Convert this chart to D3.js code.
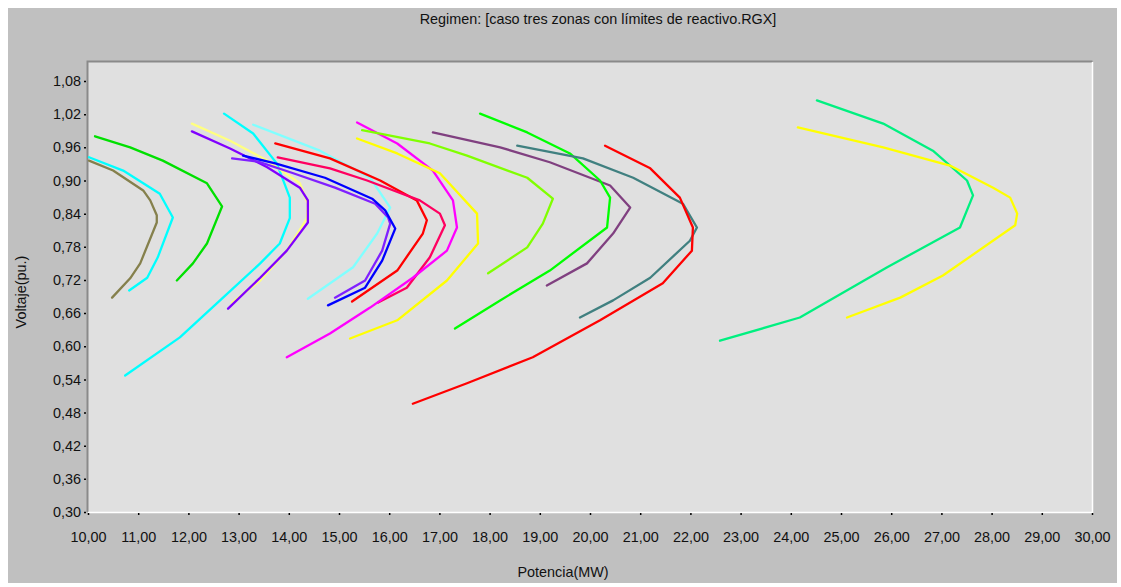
<!DOCTYPE html>
<html>
<head>
<meta charset="utf-8">
<script src="https://cdn.jsdelivr.net/npm/d3@7/dist/d3.min.js"></script>
<style>
  html, body { margin: 0; padding: 0; background: #ffffff; }
  svg { display: block; font-family: "Liberation Sans", Arial, sans-serif; }
</style>
</head>
<body>
<svg id="chart" width="1121" height="587"></svg>
<script>
// Nose curves (P–V): potencia in MW, voltaje in p.u.
const olivaP   = [10.02, 10.50, 11.10, 11.24, 11.37, 11.37, 11.04, 10.84, 10.48];
const olivaV   = [0.936, 0.918, 0.882, 0.864, 0.837, 0.824, 0.750, 0.723, 0.688];

const cianAP   = [10.02, 10.70, 11.43, 11.69, 11.39, 11.18, 10.82];
const cianAV   = [0.942, 0.918, 0.876, 0.833, 0.761, 0.724, 0.701];

const verdeAP  = [10.14, 10.84, 11.49, 12.37, 12.67, 12.37, 12.09, 11.77];
const verdeAV  = [0.980, 0.960, 0.936, 0.895, 0.853, 0.786, 0.750, 0.719];

const cianBP   = [12.71, 13.29, 13.76, 14.02, 14.02, 13.82, 13.43, 12.69, 11.83, 10.74];
const cianBV   = [1.021, 0.985, 0.931, 0.869, 0.832, 0.786, 0.750, 0.688, 0.616, 0.547];

const amarilloAP = [12.07, 12.83, 13.57, 14.22, 14.38, 14.36, 13.96, 13.43, 12.87];
const amarilloAV = [1.003, 0.972, 0.936, 0.895, 0.858, 0.831, 0.773, 0.719, 0.679];

const violetaAP = [12.07, 12.83, 13.57, 14.22, 14.38, 14.38, 13.96, 13.43, 12.79];
const violetaAV = [0.989, 0.958, 0.924, 0.887, 0.864, 0.824, 0.773, 0.724, 0.668];

const violetaBP = [12.87, 13.39, 14.06, 14.92, 15.72, 15.98, 16.02, 15.86, 15.52, 14.92];
const violetaBV = [0.940, 0.934, 0.914, 0.887, 0.858, 0.833, 0.822, 0.773, 0.719, 0.688];

const azulP    = [13.09, 13.73, 14.72, 15.66, 15.92, 16.12, 15.86, 15.52, 14.78];
const azulV    = [0.945, 0.931, 0.905, 0.867, 0.846, 0.813, 0.755, 0.706, 0.674];

const rojoAP   = [13.73, 14.82, 15.82, 16.55, 16.75, 16.67, 16.16, 15.26];
const rojoAV   = [0.967, 0.940, 0.900, 0.864, 0.828, 0.804, 0.737, 0.681];

const carmesiP = [13.78, 14.82, 15.56, 16.61, 17.01, 17.11, 16.81, 16.35, 15.78];
const carmesiV = [0.942, 0.922, 0.900, 0.864, 0.840, 0.819, 0.761, 0.706, 0.679];

const celesteP = [13.29, 14.62, 15.62, 16.02, 15.76, 15.28, 14.38];
const celesteV = [1.001, 0.954, 0.905, 0.851, 0.804, 0.743, 0.686];

const magentaP = [15.36, 16.16, 16.87, 17.27, 17.35, 17.15, 16.47, 15.62, 14.82, 13.96];
const magentaV = [1.005, 0.967, 0.918, 0.864, 0.815, 0.773, 0.724, 0.670, 0.623, 0.580];

const amarilloBP = [15.36, 16.16, 17.01, 17.75, 17.77, 17.15, 16.16, 15.22];
const amarilloBV = [0.976, 0.949, 0.913, 0.840, 0.786, 0.719, 0.647, 0.614];

const limaP    = [15.46, 16.81, 17.55, 18.75, 19.26, 19.06, 18.75, 17.97];
const limaV    = [0.991, 0.967, 0.945, 0.905, 0.867, 0.822, 0.779, 0.732];

const purpuraP = [16.87, 18.21, 19.20, 20.40, 20.80, 20.46, 19.94, 19.14];
const purpuraV = [0.987, 0.960, 0.933, 0.891, 0.851, 0.804, 0.750, 0.710];

const verdeBP  = [17.81, 18.75, 19.60, 20.20, 20.40, 20.34, 19.20, 18.21, 17.31];
const verdeBV  = [1.021, 0.987, 0.949, 0.900, 0.869, 0.815, 0.737, 0.683, 0.632];

const tealP    = [18.55, 19.86, 20.86, 21.85, 22.13, 21.99, 21.20, 20.46, 19.80];
const tealV    = [0.963, 0.940, 0.905, 0.858, 0.815, 0.791, 0.724, 0.683, 0.652];

const rojoBP   = [20.30, 21.20, 21.79, 22.05, 22.03, 21.45, 20.20, 18.86, 17.55, 16.47];
const rojoBV   = [0.963, 0.922, 0.869, 0.815, 0.773, 0.714, 0.647, 0.580, 0.533, 0.496];

const primaveraP = [24.52, 25.84, 26.83, 27.51, 27.63, 27.37, 25.92, 24.18, 22.59];
const primaveraV = [1.045, 1.003, 0.954, 0.900, 0.873, 0.815, 0.743, 0.652, 0.610];

const amarilloCP = [24.14, 25.84, 27.17, 28.03, 28.37, 28.51, 28.47, 27.03, 26.18, 25.12];
const amarilloCV = [0.996, 0.960, 0.927, 0.887, 0.869, 0.840, 0.819, 0.728, 0.688, 0.652];

// Axis ticks
const xTicks = [10, 11, 12, 13, 14, 15, 16, 17, 18, 19, 20, 21, 22, 23, 24, 25, 26, 27, 28, 29, 30];
const yTicks = [0.30, 0.36, 0.42, 0.48, 0.54, 0.60, 0.66, 0.72, 0.78, 0.84, 0.90, 0.96, 1.02, 1.08];

const titulo = "Regimen: [caso tres zonas con límites de reactivo.RGX]";
const ejeX = "Potencia(MW)";
const ejeY = "Voltaje(pu.)";

// Series list: data + stroke colour
const series = [
  { p: olivaP,     v: olivaV,     color: "#85804c" },
  { p: cianAP,     v: cianAV,     color: "#00ffff" },
  { p: verdeAP,    v: verdeAV,    color: "#00e000" },
  { p: cianBP,     v: cianBV,     color: "#00ffff" },
  { p: amarilloAP, v: amarilloAV, color: "#ffff80" },
  { p: violetaAP,  v: violetaAV,  color: "#8000ff" },
  { p: celesteP,   v: celesteV,   color: "#80ffff" },
  { p: rojoAP,     v: rojoAV,     color: "#ff0000" },
  { p: carmesiP,   v: carmesiV,   color: "#ff0060" },
  { p: violetaBP,  v: violetaBV,  color: "#8020ff" },
  { p: azulP,      v: azulV,      color: "#0000ff" },
  { p: magentaP,   v: magentaV,   color: "#ff00ff" },
  { p: amarilloBP, v: amarilloBV, color: "#ffff00" },
  { p: limaP,      v: limaV,      color: "#80ff00" },
  { p: purpuraP,   v: purpuraV,   color: "#804080" },
  { p: verdeBP,    v: verdeBV,    color: "#00ff00" },
  { p: tealP,      v: tealV,      color: "#408080" },
  { p: rojoBP,     v: rojoBV,     color: "#ff0000" },
  { p: primaveraP, v: primaveraV, color: "#00f080" },
  { p: amarilloCP, v: amarilloCV, color: "#ffff00" }
];

// Layout
const W = 1121, H = 587;
const plot = { left: 88, right: 1092, top: 62, bottom: 512 };
const fontSize = "14.4px";

const svg = d3.select("#chart");

// window panel
svg.append("rect").attr("x", 8).attr("y", 8).attr("width", W - 12).attr("height", H - 12)
  .attr("fill", "#c0c0c0");

const x = d3.scaleLinear().domain([10, 30]).range([plot.left, plot.right]);
const yTop = 0.30 + (plot.bottom - plot.top) / (33.15 / 0.06);
const y = d3.scaleLinear().domain([0.30, yTop]).range([plot.bottom, plot.top]);

// plot background with sunken border
svg.append("rect")
  .attr("x", plot.left).attr("y", plot.top)
  .attr("width", plot.right - plot.left).attr("height", plot.bottom - plot.top)
  .attr("fill", "#e0e0e0");
svg.append("path")
  .attr("d", `M${plot.left - 0.5},${plot.bottom}V${plot.top - 0.5}H${plot.right + 0.5}`)
  .attr("fill", "none").attr("stroke", "#8a8a8a").attr("stroke-width", 2);
svg.append("path")
  .attr("d", `M${plot.left},${plot.bottom + 0.5}H${plot.right + 0.5}V${plot.top}`)
  .attr("fill", "none").attr("stroke", "#ffffff").attr("stroke-width", 1.5);

const fmt = d3.formatLocale({ decimal: ",", thousands: ".", grouping: [3], currency: ["", ""] }).format(".2f");

// axes
const gx = svg.append("g").attr("transform", `translate(0,${plot.bottom + 1})`)
  .call(d3.axisBottom(x).tickValues(xTicks).tickFormat(fmt).tickSize(2).tickPadding(17));
const gy = svg.append("g").attr("transform", `translate(${plot.left - 2},0)`)
  .call(d3.axisLeft(y).tickValues(yTicks).tickFormat(fmt).tickSize(2).tickPadding(3));
[gx, gy].forEach(g => {
  g.select(".domain").remove();
  g.selectAll(".tick line").attr("stroke", "#000").attr("stroke-width", 1.5);
  g.selectAll(".tick text").attr("fill", "#111").style("font-size", fontSize)
    .style("font-family", "'Liberation Sans', Arial, sans-serif");
});

// curves
const line = d3.line().x(d => x(d[0])).y(d => y(d[1]));
const gLines = svg.append("g");
series.forEach(s => {
  const pts = s.p.map((p, i) => [p, s.v[i]]);
  gLines.append("path")
    .datum(pts)
    .attr("d", line)
    .attr("fill", "none")
    .attr("stroke", s.color)
    .attr("stroke-width", 2.3)
    .attr("stroke-linejoin", "round")
    .attr("stroke-linecap", "round");
});

// titles
svg.append("text").attr("x", 598).attr("y", 24)
  .attr("text-anchor", "middle").attr("fill", "#111")
  .style("font-size", fontSize).text(titulo);
svg.append("text").attr("x", 563).attr("y", 577)
  .attr("text-anchor", "middle").attr("fill", "#111")
  .style("font-size", fontSize).text(ejeX);
svg.append("text")
  .attr("transform", `translate(26,292) rotate(-90)`)
  .attr("text-anchor", "middle").attr("fill", "#111")
  .style("font-size", fontSize).text(ejeY);
</script>
</body>
</html>
